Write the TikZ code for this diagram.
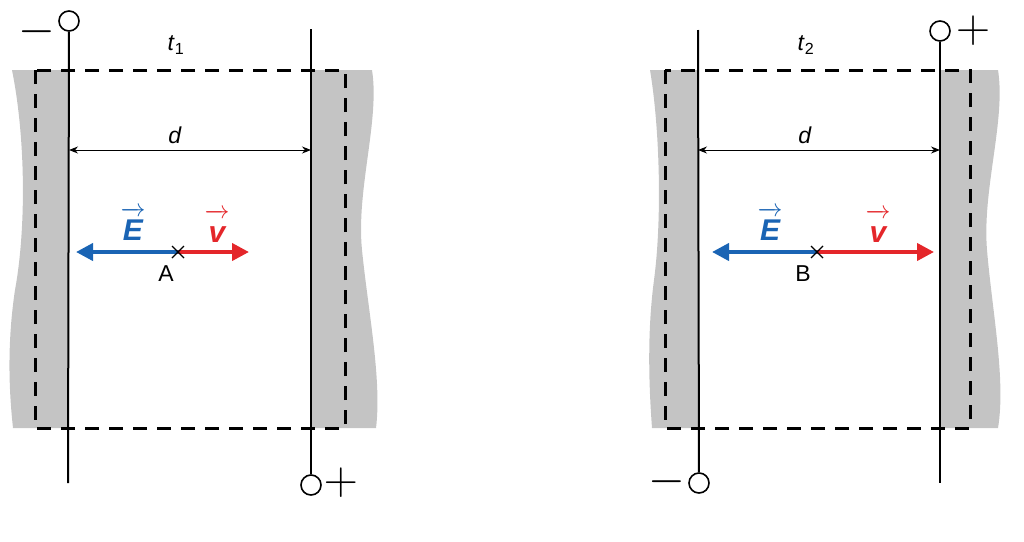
\documentclass[tikz,border=0pt]{standalone}
\usepackage{fontspec}
\setmainfont{Liberation Sans}
\usetikzlibrary{arrows.meta}
\definecolor{metalgray}{HTML}{C4C4C4}
\definecolor{fieldblue}{HTML}{1A64B4}
\definecolor{speedred}{HTML}{E4262A}
\newcommand{\arrowover}[1]{\ensuremath{\overrightarrow{\hbox{\bfseries\itshape #1\rule{0pt}{0.82em}}}}}

\begin{document}
\begin{tikzpicture}[x=1pt,y=-1pt,
   plate/.style={line width=2pt},
   term/.style={circle,draw,line width=1.6pt,fill=white,minimum size=20pt,inner sep=0pt},
   border/.style={dash pattern=on 14pt off 10pt,line width=3pt},
   metal/.style={fill=metalgray},
   field/.style={draw=fieldblue,line width=4pt,-{Triangle[length=17pt,width=17pt]}},
   speed/.style={draw=speedred,line width=4pt,-{Triangle[length=17pt,width=17pt]}},
   gapline/.style={line width=1pt,{Stealth[length=9pt,width=7pt]}-{Stealth[length=9pt,width=7pt]}},
   sign/.style={font=\fontsize{24.88}{26}\selectfont,inner sep=0pt,anchor=base,scale=1.9,transform shape},
   lbl/.style={font=\fontsize{23}{26}\selectfont,inner sep=0pt},
   vlbl/.style={font=\fontsize{30}{32}\selectfont,inner sep=0pt}]
\useasboundingbox (0,0) rectangle (1024,541);

% first capacitor, time t1
\fill[metal] (12,70) .. controls (26,140) and (26,230) .. (15,290) .. controls (6,350) and (10,400) .. (13,428) -- (68,428) -- (68,70) -- cycle;
\fill[metal] (312,70) -- (372,70) .. controls (380,120) and (356,190) .. (362,250) .. controls (368,310) and (382,380) .. (376,428) -- (312,428) -- cycle;
\draw[border] (35,70) rectangle (345,428);
\node[term] (negA) at (69,21) {};
\node[term] (posA) at (311,485) {};
\coordinate (endA) at (68,483);
\coordinate (startA) at (311,29);
\draw[plate] (negA) -- (endA);
\draw[plate] (startA) -- (posA);
\node[sign] (minusA) at (37,43) {$-$};
\node[sign] (plusA) at (341,494.5) {$+$};
\node[lbl] (timeA) at (176,45) {\textit{t}\textsubscript{1}};
\coordinate (leftA) at (69,150);
\coordinate (rightA) at (311,150);
\draw[gapline] (leftA) -- (rightA);
\node[lbl] (distA) at (175,135) {\textit{d}};
\coordinate (pointA) at (178,252);
\coordinate (fieldA) at (76,252);
\coordinate (speedA) at (249,252);
\draw[field] (pointA) -- (fieldA);
\draw[speed] (pointA) -- (speedA);
\draw[line width=1.2pt] (pointA) +(-6,-6) -- +(6,6) +(-6,6) -- +(6,-6);
\node[lbl] (nameA) at (166,274) {A};
\node[vlbl,text=fieldblue] (eA) at (133,224) {\arrowover{E}};
\node[vlbl,text=speedred] (vA) at (217,226) {\arrowover{v}};

% second capacitor, time t2
\fill[metal] (650,70) .. controls (660,130) and (662,220) .. (654,280) .. controls (646,340) and (650,400) .. (652,428) -- (698,428) -- (698,70) -- cycle;
\fill[metal] (940,70) -- (998,70) .. controls (1006,120) and (982,190) .. (987,250) .. controls (992,310) and (1006,380) .. (998,428) -- (940,428) -- cycle;
\draw[border] (665,70) rectangle (970,428);
\node[term] (negB) at (699,483) {};
\node[term] (posB) at (940,31) {};
\coordinate (startB) at (698,30);
\coordinate (endB) at (940,483);
\draw[plate] (startB) -- (negB);
\draw[plate] (posB) -- (endB);
\node[sign] (minusB) at (667,493.5) {$-$};
\node[sign] (plusB) at (973,42.5) {$+$};
\node[lbl] (timeB) at (806,45) {\textit{t}\textsubscript{2}};
\coordinate (leftB) at (698,150);
\coordinate (rightB) at (940,150);
\draw[gapline] (leftB) -- (rightB);
\node[lbl] (distB) at (805,135) {\textit{d}};
\coordinate (pointB) at (817,252);
\coordinate (fieldB) at (712,252);
\coordinate (speedB) at (934,252);
\draw[field] (pointB) -- (fieldB);
\draw[speed] (pointB) -- (speedB);
\draw[line width=1.2pt] (pointB) +(-6,-6) -- +(6,6) +(-6,6) -- +(6,-6);
\node[lbl] (nameB) at (803,274) {B};
\node[vlbl,text=fieldblue] (eB) at (770,224) {\arrowover{E}};
\node[vlbl,text=speedred] (vB) at (878,226) {\arrowover{v}};
\end{tikzpicture}
\end{document}
